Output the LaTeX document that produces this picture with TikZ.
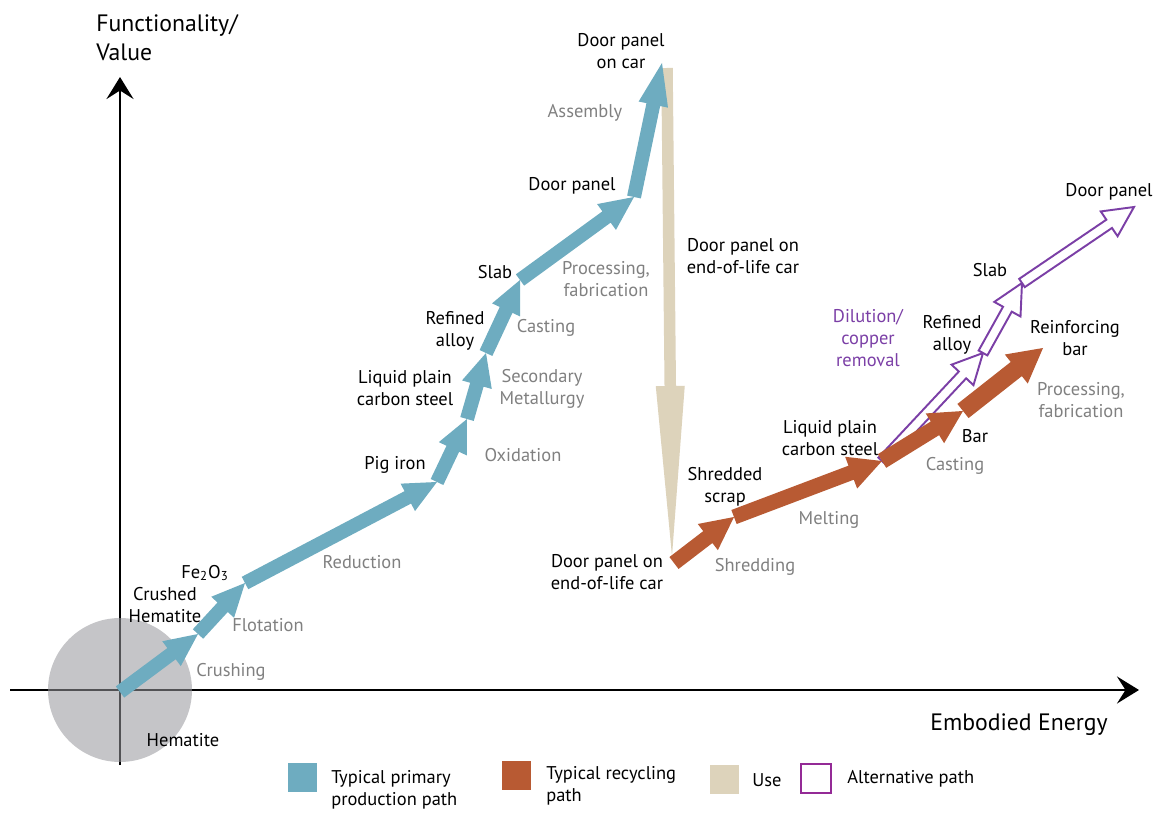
\documentclass[tikz,border=0pt]{standalone}
\usepackage{fontspec}
\setmainfont{PT Sans}
\usetikzlibrary{calc,arrows.meta}

\definecolor{primblue}{RGB}{110,172,192}
\definecolor{recyorange}{RGB}{184,90,51}
\definecolor{usebeige}{RGB}{221,211,187}
\definecolor{altpurple}{RGB}{123,63,166}
\definecolor{legpurple}{RGB}{148,42,150}
\definecolor{procgray}{RGB}{128,128,128}
\definecolor{orecircle}{RGB}{150,150,155}

% block arrow: style, tail, tip, half shaft width, half head width, head length
\newcommand{\blockarrow}[6]{%
  \coordinate (hb) at ($(#3)!#6!(#2)$);
  \path[#1] ($(#2)!#4!90:(#3)$) -- ($(hb)!#4!90:(#3)$) -- ($(hb)!#5!90:(#3)$) -- (#3)
    -- ($(hb)!#5!-90:(#3)$) -- ($(hb)!#4!-90:(#3)$) -- ($(#2)!#4!-90:(#3)$) -- cycle;
}

\tikzset{
  state/.style={font=\fontsize{10.5}{12.6}\selectfont, align=center, text=black, inner sep=0pt},
  process/.style={state, text=procgray},
  axislabel/.style={font=\fontsize{13.5}{16.5}\selectfont, inner sep=0pt},
  axis/.style={line width=1.7pt, -{Stealth[length=0.44cm, width=0.54cm, inset=0.17cm]}},
  primary/.style={fill=primblue},
  recycle/.style={fill=recyorange},
  use/.style={fill=usebeige},
  alternative/.style={draw=altpurple, fill=white, line width=1.1pt},
  legendtext/.style={state, anchor=west, align=left}
}

\begin{document}
\begin{tikzpicture}[x=0.02cm, y=-0.02cm]
\useasboundingbox (0,0) rectangle (1164,814);

%Axes
\draw[axis] (120,765) -- (120,77);
\draw[axis] (10,690) -- (1139,690);
\node[axislabel, anchor=west, align=left] (yname) at (96,38) {Functionality/\\Value};
\node[axislabel] (xname) at (1019,725) {Embodied Energy};

%Ore
\fill[orecircle, fill opacity=0.55] (120,690) circle[radius=1.44cm];

%Path points
\coordinate (ore) at (120,692);
\coordinate (crushed) at (198,634);
\coordinate (fe) at (245,583);
\coordinate (pig) at (437,482);
\coordinate (liquid) at (467,419);
\coordinate (refined) at (486,353);
\coordinate (slab) at (520,280);
\coordinate (panel) at (634,197);
\coordinate (oncar) at (662,63);
\coordinate (usetop) at (667,68);
\coordinate (usetip) at (672,556);
\coordinate (eol) at (674,563);
\coordinate (scrap) at (734,517);
\coordinate (liquidr) at (882,461);
\coordinate (bar) at (963,411);
\coordinate (rebar) at (1043,348);
\coordinate (altrefined) at (983,353);
\coordinate (altslab) at (1022,283);
\coordinate (altpanel) at (1134,207);

%Use
\blockarrow{use}{usetop}{usetip}{0.115cm}{0.29cm}{3.4cm}

%Primary production
\blockarrow{primary}{ore}{crushed}{0.14cm}{0.31cm}{0.66cm}
\blockarrow{primary}{crushed}{fe}{0.14cm}{0.31cm}{0.66cm}
\blockarrow{primary}{fe}{pig}{0.14cm}{0.31cm}{0.66cm}
\blockarrow{primary}{pig}{liquid}{0.14cm}{0.31cm}{0.66cm}
\blockarrow{primary}{liquid}{refined}{0.14cm}{0.31cm}{0.66cm}
\blockarrow{primary}{refined}{slab}{0.14cm}{0.31cm}{0.66cm}
\blockarrow{primary}{slab}{panel}{0.14cm}{0.32cm}{0.68cm}
\blockarrow{primary}{panel}{oncar}{0.14cm}{0.3cm}{0.85cm}

%Alternative path
\blockarrow{alternative}{liquidr}{altrefined}{0.1cm}{0.3cm}{0.6cm}
\blockarrow{alternative}{altrefined}{altslab}{0.1cm}{0.3cm}{0.6cm}
\blockarrow{alternative}{altslab}{altpanel}{0.1cm}{0.3cm}{0.6cm}

%Recycling
\blockarrow{recycle}{eol}{scrap}{0.15cm}{0.33cm}{0.66cm}
\blockarrow{recycle}{scrap}{liquidr}{0.15cm}{0.34cm}{0.66cm}
\blockarrow{recycle}{liquidr}{bar}{0.16cm}{0.35cm}{0.66cm}
\blockarrow{recycle}{bar}{rebar}{0.18cm}{0.37cm}{0.68cm}

%States
\node[state] (hematite) at (183,740) {Hematite};
\node[state] (crushedlab) at (165,605) {Crushed\\Hematite};
\node[state] (felab) at (205,573) {Fe\textsubscript{2}O\textsubscript{3}};
\node[state] (piglab) at (395,465) {Pig iron};
\node[state] (liquidlab) at (405,388) {Liquid plain\\carbon steel};
\node[state] (refinedlab) at (455,331) {Refined\\alloy};
\node[state] (slablab) at (495,272) {Slab};
\node[state] (panellab) at (572,186) {Door panel};
\node[state] (oncarlab) at (621,51) {Door panel\\on car};
\node[state] (uselab) at (743,256) {Door panel on\\end-of-life car};
\node[state] (eollab) at (607,572) {Door panel on\\end-of-life car};
\node[state] (scraplab) at (725,487) {Shredded\\scrap};
\node[state] (liquidrlab) at (830,438) {Liquid plain\\carbon steel};
\node[state] (barlab) at (975,436) {Bar};
\node[state] (rebarlab) at (1075,338) {Reinforcing\\bar};
\node[state] (altrefinedlab) at (952,335) {Refined\\alloy};
\node[state] (altslablab) at (990,270) {Slab};
\node[state] (altpanellab) at (1109,192) {Door panel};

%Processes
\node[process] (crushing) at (231,672) {Crushing};
\node[process] (flotation) at (268,625) {Flotation};
\node[process] (reduction) at (362,562) {Reduction};
\node[process] (oxidation) at (523,455) {Oxidation};
\node[process] (secondary) at (542,389) {Secondary\\Metallurgy};
\node[process] (casting) at (546,328) {Casting};
\node[process] (processing) at (606,279) {Processing,\\fabrication};
\node[process] (assembly) at (585,113) {Assembly};
\node[process] (shredding) at (755,567) {Shredding};
\node[process] (melting) at (829,520) {Melting};
\node[process] (castingr) at (955,466) {Casting};
\node[process] (processingr) at (1081,400) {Processing,\\fabrication};
\node[state, text=altpurple] (dilution) at (868,338) {Dilution/\\copper\\removal};

%Legend
\fill[primblue] (288,763) rectangle (317,792);
\node[legendtext] (legprim) at (331,790) {Typical primary\\production path};
\fill[recyorange] (502,761) rectangle (531,790);
\node[legendtext] (legrecy) at (546,786) {Typical recycling\\path};
\fill[usebeige] (710,765) rectangle (739,794);
\node[legendtext] (leguse) at (752,780) {Use};
\draw[legpurple, line width=1.7pt] (801,764) rectangle (831,793);
\node[legendtext] (legalt) at (847,779) {Alternative path};
\end{tikzpicture}
\end{document}
